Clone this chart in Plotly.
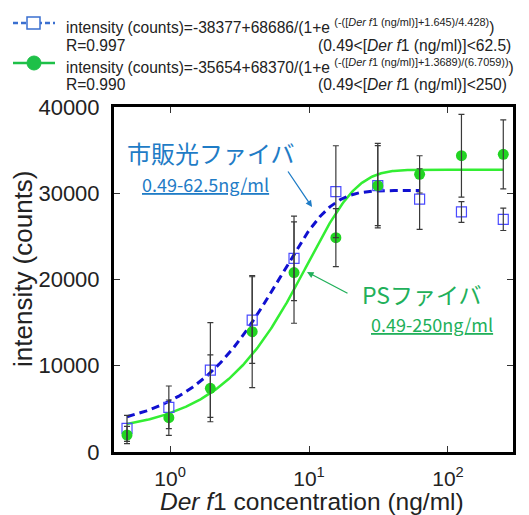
import numpy as np
import plotly.graph_objects as go

# ---------------- data ----------------
conc = [0.49, 0.98, 1.95, 3.9, 7.8, 15.6, 31.25, 62.5, 125, 250]
commercial = [2740, 5180, 9500, 15300, 22450, 30180, 30880, 29330, 27830, 26980]
commercial_err = [1500, 2470, 5490, 5020, 4900, 5330, 4640, 3510, 1200, 1300]
ps_fiber = [1970, 3980, 7380, 13950, 20800, 24850, 30880, 32190, 34350, 34510]
ps_fiber_err = [1000, 2050, 3870, 6490, 5870, 3360, 4900, 2160, 4800, 4000]

# fitted curves given in the legend: a + b/(1+exp(-(x+c)/d))
fit_commercial = dict(a=-38377, b=68686, c=1.645, d=4.428, xmin=0.49, xmax=62.5)
fit_ps = dict(a=-35654, b=68370, c=1.3689, d=6.7059, xmin=0.49, xmax=250)

y_ticks = [0, 10000, 20000, 30000, 40000]
y_ticktext = ["0", "10000", "20000", "30000", "40000"]
x_ticks = [1, 10, 100]
x_ticktext = ["10<sup>0</sup>", "10<sup>1</sup>", "10<sup>2</sup>"]


def curve(p):
    xs = np.logspace(np.log10(p["xmin"]), np.log10(p["xmax"]), 300)
    ys = p["a"] + p["b"] / (1 + np.exp(-(xs + p["c"]) / p["d"]))
    return xs, ys


# ---------------- layout geometry (pixels) ----------------
W, H = 529, 515
L, R, T, B = 114, 513, 107, 452


def px(x):
    return (x - L) / (R - L)


def py(y):
    return (B - y) / (B - T)


BLUE_LINE = "#1010d0"
BLUE_MARK = "#4a4aff"
GREEN_LINE = "#33ee33"
GREEN_MARK = "#22d422"
ERR = "#3a3a3a"
TXT_BLUE = "#1f7cc6"
TXT_GREEN = "#21b05a"
FONT = "Liberation Sans, Arial, sans-serif"
CJK = "Noto Sans CJK JP, sans-serif"

fig = go.Figure()

xb, yb = curve(fit_commercial)
xg, yg = curve(fit_ps)
fig.add_trace(go.Scatter(x=xg, y=yg, mode="lines",
                         line=dict(color=GREEN_LINE, width=2.5)))
fig.add_trace(go.Scatter(x=xb, y=yb, mode="lines",
                         line=dict(color=BLUE_LINE, width=3, dash="8px,5px")))
fig.add_trace(go.Scatter(x=conc, y=commercial, mode="markers",
                         marker=dict(symbol="square-open", size=10,
                                     color=BLUE_MARK, line=dict(width=1.2))))
fig.add_trace(go.Scatter(x=conc, y=ps_fiber, mode="markers",
                         marker=dict(symbol="circle", size=11, color=GREEN_MARK)))
# error bars on top
for yv, ev in ((commercial, commercial_err), (ps_fiber, ps_fiber_err)):
    fig.add_trace(go.Scatter(x=conc, y=yv, mode="markers",
                             marker=dict(size=1, opacity=0),
                             error_y=dict(type="data", array=ev, visible=True,
                                          color=ERR, thickness=1.2, width=3)))

x_range = [np.log10(0.395), np.log10(293.7)]

fig.update_layout(
    width=W, height=H,
    margin=dict(l=L, r=W - R, t=T, b=H - B),
    paper_bgcolor="white", plot_bgcolor="white",
    showlegend=False,
    font=dict(family=FONT, color="#222"),
    xaxis=dict(type="log", range=x_range, tickvals=x_ticks, ticktext=x_ticktext,
               showgrid=False, zeroline=False, showline=True, linewidth=3,
               linecolor="black", mirror="ticks", ticks="inside", ticklen=6,
               ticklabelstandoff=6,
               tickcolor="#333", tickfont=dict(size=21, family=FONT, color="#222")),
    yaxis=dict(range=[0, 40000], tickvals=y_ticks, ticktext=y_ticktext,
               showgrid=False, zeroline=False,
               showline=True, linewidth=3, linecolor="black", mirror="ticks",
               ticks="inside", ticklen=6, tickcolor="#333", ticklabelstandoff=7,
               tickfont=dict(size=22, family=FONT, color="#222")),
)

ann = []
# axis titles
ann.append(dict(text="<i>Der f</i>1 concentration (ng/ml)", x=px(312), y=py(501),
                xref="paper", yref="paper", showarrow=False,
                font=dict(size=24.5, family=FONT, color="#222"),
                xanchor="center", yanchor="middle"))
ann.append(dict(text="intensity (counts)", x=px(23), y=py(269),
                xref="paper", yref="paper", showarrow=False, textangle=-90,
                font=dict(size=26, family=FONT, color="#222"),
                xanchor="center", yanchor="middle"))

# legend texts
LEG = dict(size=15.6, family=FONT, color="#222")
ann.append(dict(text="intensity (counts)=-38377+68686/(1+e <sup>(-([<i>Der f</i>1 (ng/ml)]+1.645)/4.428)</sup>)",
                x=px(64), y=py(26), xref="paper", yref="paper", showarrow=False,
                xanchor="left", yanchor="middle", font=LEG))
ann.append(dict(text="R=0.997", x=px(64), y=py(45), xref="paper", yref="paper",
                showarrow=False, xanchor="left", yanchor="middle", font=LEG))
ann.append(dict(text="(0.49&lt;[<i>Der f</i>1 (ng/ml)]&lt;62.5)", x=px(316), y=py(45),
                xref="paper", yref="paper", showarrow=False, xanchor="left",
                yanchor="middle", font=LEG))
ann.append(dict(text="intensity (counts)=-35654+68370/(1+e <sup>(-([<i>Der f</i>1 (ng/ml)]+1.3689)/(6.7059))</sup>)",
                x=px(64), y=py(66), xref="paper", yref="paper", showarrow=False,
                xanchor="left", yanchor="middle", font=LEG))
ann.append(dict(text="R=0.990", x=px(64), y=py(84), xref="paper", yref="paper",
                showarrow=False, xanchor="left", yanchor="middle", font=LEG))
ann.append(dict(text="(0.49&lt;[<i>Der f</i>1 (ng/ml)]&lt;250)", x=px(316), y=py(84),
                xref="paper", yref="paper", showarrow=False, xanchor="left",
                yanchor="middle", font=LEG))

# in-plot labels
ann.append(dict(text="市販光ファイバ", x=px(211), y=py(152), xref="paper", yref="paper",
                showarrow=False, xanchor="center", yanchor="middle",
                font=dict(size=24, family=CJK, color=TXT_BLUE)))
ann.append(dict(text="<u>0.49-62.5ng/ml</u>", x=px(205), y=py(184), xref="paper",
                yref="paper", showarrow=False, xanchor="center", yanchor="middle",
                font=dict(size=18, family=CJK, color=TXT_BLUE)))
ann.append(dict(text="PSファイバ", x=px(422), y=py(294), xref="paper", yref="paper",
                showarrow=False, xanchor="center", yanchor="middle",
                font=dict(size=23, family=CJK, color=TXT_GREEN)))
ann.append(dict(text="<u>0.49-250ng/ml</u>", x=px(432), y=py(324), xref="paper",
                yref="paper", showarrow=False, xanchor="center", yanchor="middle",
                font=dict(size=18, family=CJK, color=TXT_GREEN)))
# arrows
ann.append(dict(text="", x=px(312), y=py(207), xref="paper", yref="paper",
                ax=287 - 312, ay=170 - 207, showarrow=True, arrowhead=2,
                arrowsize=1, arrowwidth=1.3, arrowcolor=TXT_BLUE))
ann.append(dict(text="", x=px(307), y=py(272), xref="paper", yref="paper",
                ax=349 - 307, ay=294 - 272, showarrow=True, arrowhead=2,
                arrowsize=1, arrowwidth=1.3, arrowcolor=TXT_GREEN))
fig.update_layout(annotations=ann)

# legend symbols
shapes = []
shapes.append(dict(type="line", xref="paper", yref="paper", x0=px(13), x1=px(55),
                   y0=py(23), y1=py(23), line=dict(color="#3a6fd0", width=2.5, dash="5px,3px")))
shapes.append(dict(type="rect", xref="paper", yref="paper", x0=px(27), x1=px(40),
                   y0=py(17), y1=py(29), fillcolor="white",
                   line=dict(color="#3a6fd0", width=1.5)))
shapes.append(dict(type="line", xref="paper", yref="paper", x0=px(13), x1=px(55),
                   y0=py(63), y1=py(63), line=dict(color="#1ec048", width=2.5)))
shapes.append(dict(type="circle", xref="paper", yref="paper", x0=px(27), x1=px(41),
                   y0=py(56), y1=py(70), fillcolor="#1ec048",
                   line=dict(color="#1ec048", width=1)))
fig.update_layout(shapes=shapes)

fig.write_html("out.html")
